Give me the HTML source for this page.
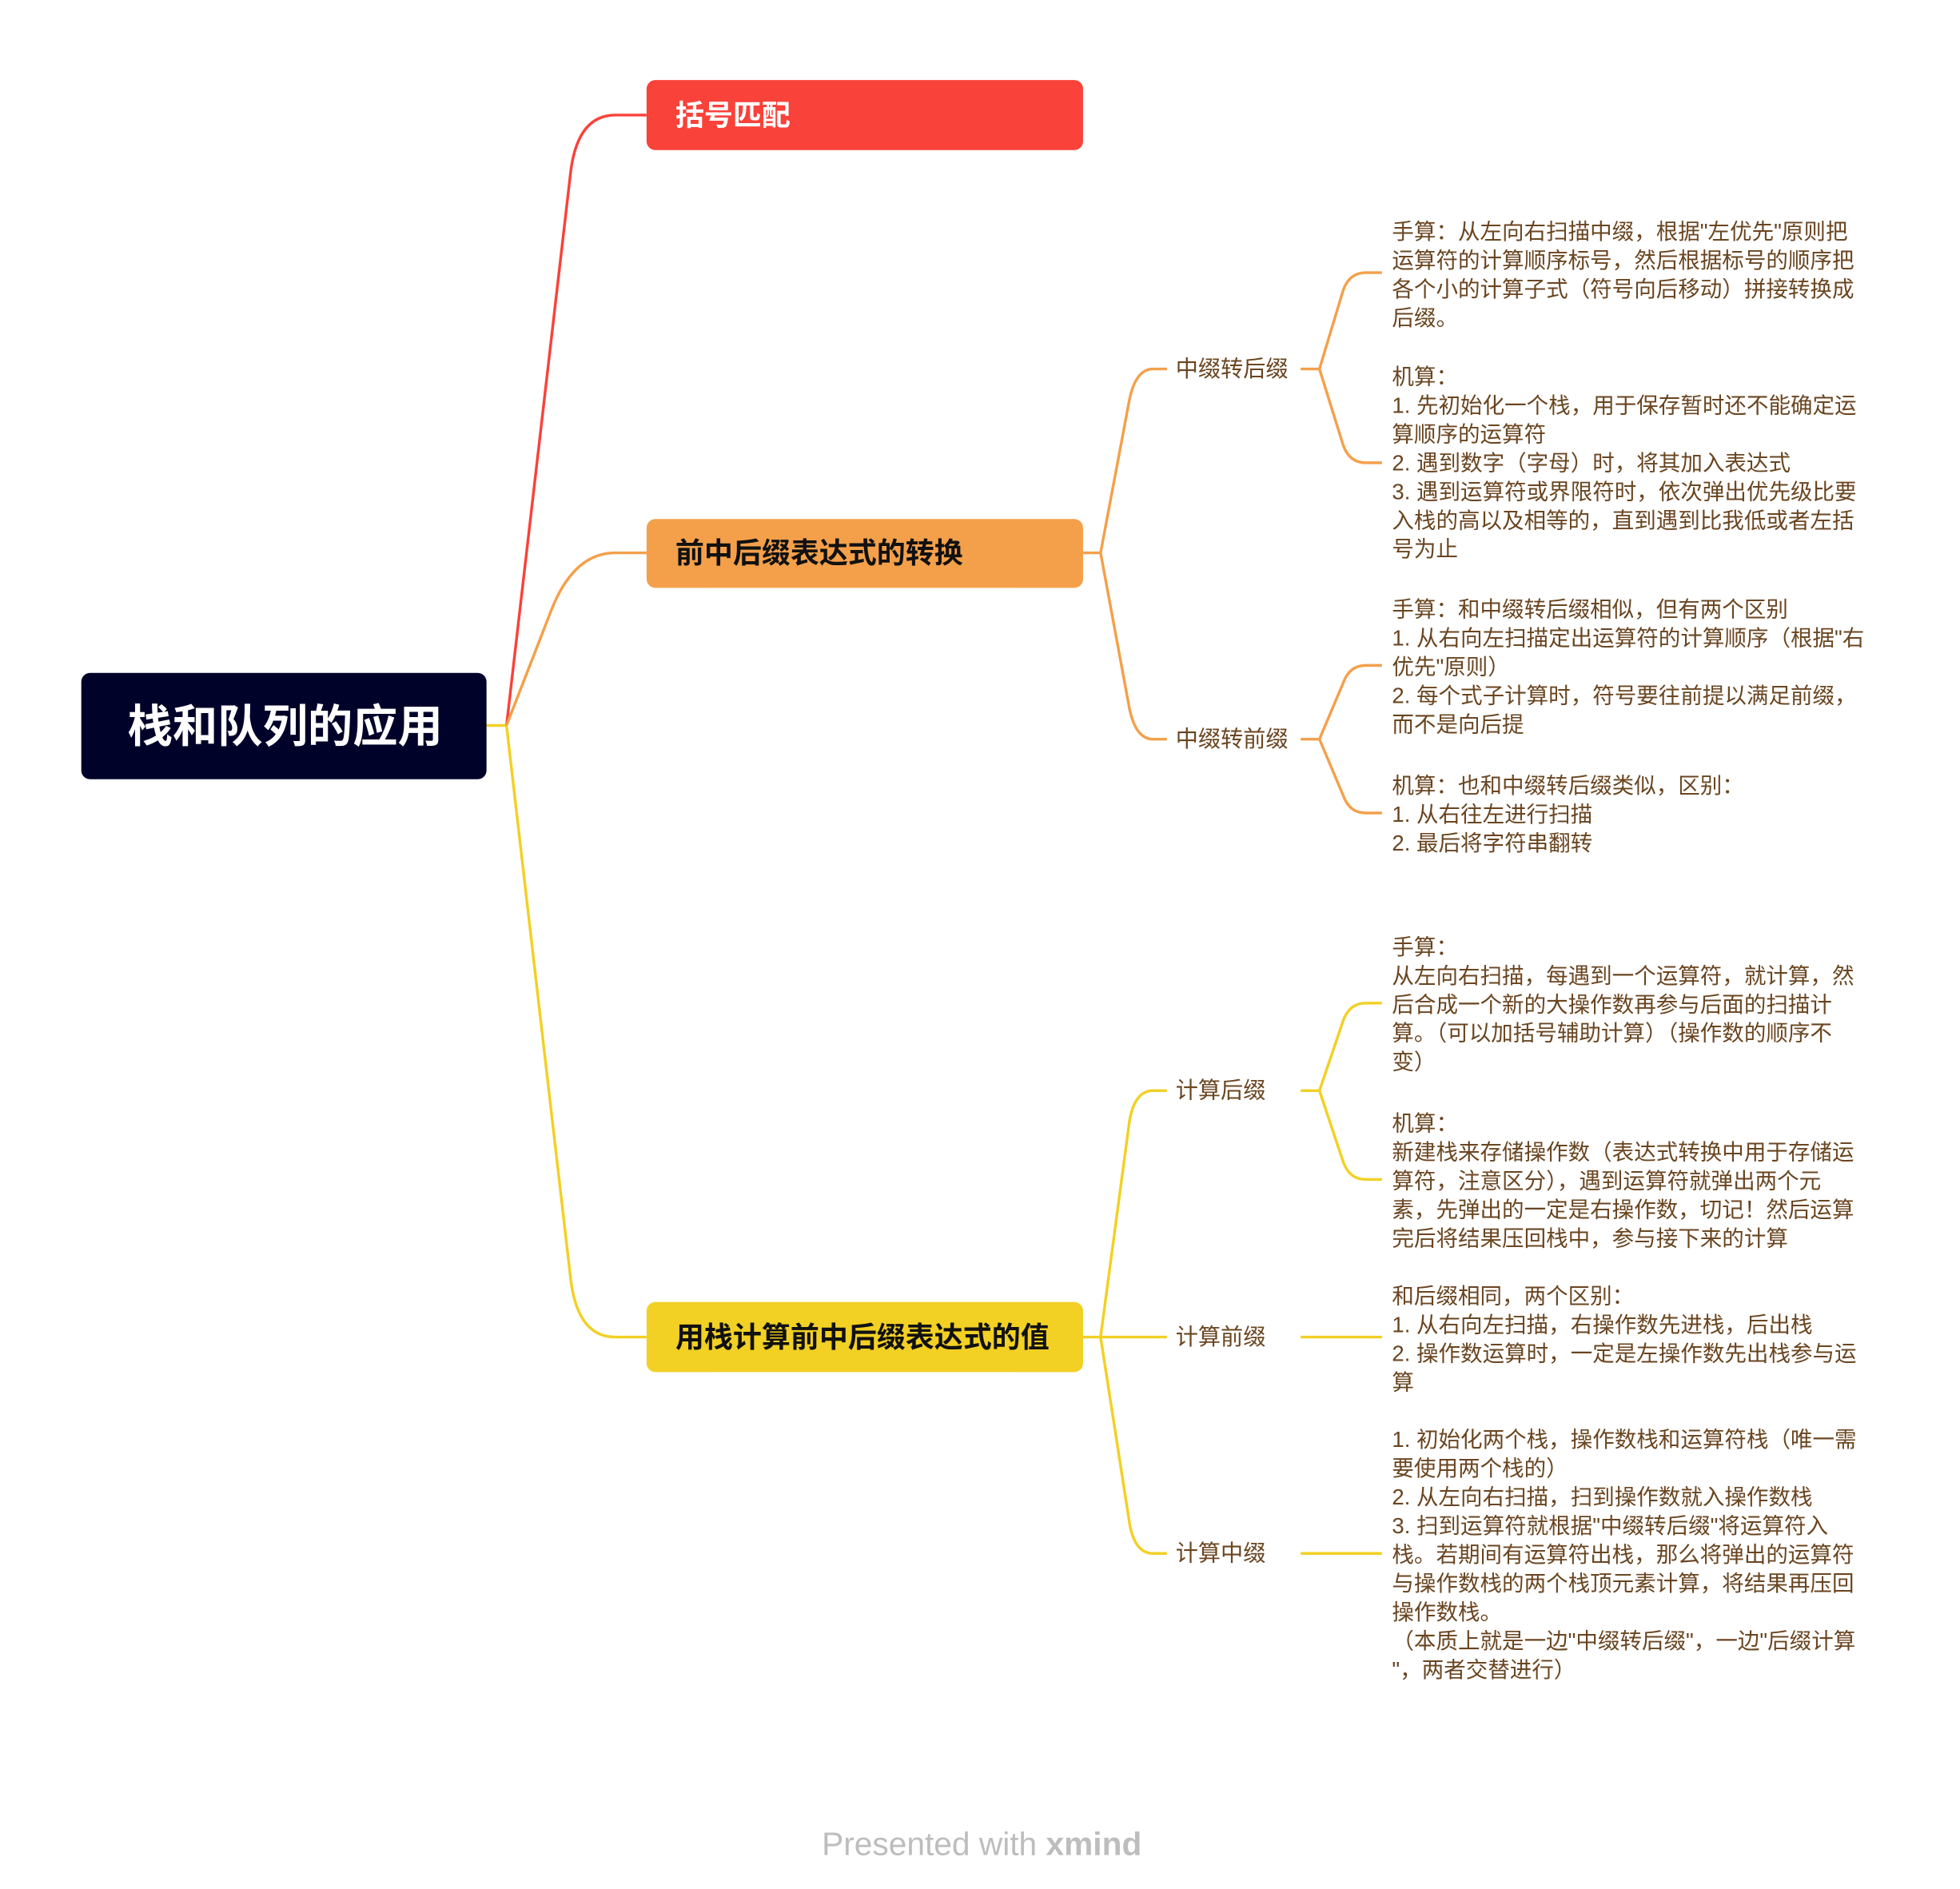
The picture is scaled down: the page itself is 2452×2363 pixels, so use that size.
<!DOCTYPE html>
<html><head><meta charset="utf-8"><style>
html,body{margin:0;padding:0;background:#fff;}
body{width:2452px;height:2356px;overflow:hidden;position:relative;}
#w{position:absolute;left:0;top:0;width:1570px;height:1510px;transform:scale(1.5646);transform-origin:0 0;font-family:"Liberation Sans","Noto Sans CJK SC",sans-serif;}
.box{position:absolute;border-radius:7px;box-sizing:border-box;font-weight:bold;white-space:nowrap;}
.sub{position:absolute;font-size:18px;color:#6a4520;line-height:22px;white-space:nowrap;}
.note{position:absolute;left:1113px;font-size:17.6px;color:#6a4520;line-height:23px;white-space:pre;margin-top:2px;}
svg{position:absolute;left:0;top:0;}
</style></head><body><div id="w">
<svg width="1560" height="1499" viewBox="0 0 1560 1499" fill="none" stroke-width="2.2">
<path d="M389,580 L405,580" stroke="#F2D024"/>
<path d="M405,580 L456,140 Q461,92 492,92 L517,92" stroke="#F9423A"/>
<path d="M405,580 L440,490 Q458,442 492,442 L517,442" stroke="#F4A04B"/>
<path d="M405,580 L456,1020 Q461,1069 492,1069 L517,1069" stroke="#F2D024"/>
<g stroke="#F4A04B">
<path d="M866,442 L880,442 L903,320 Q908,295 922,295 L933,295"/>
<path d="M880,442 L903,566 Q908,591 922,591 L933,591"/>
<path d="M1040,295 L1055,295 L1074,232 Q1079,218 1092,218 L1105,218"/>
<path d="M1055,295 L1074,356 Q1079,370 1092,370 L1105,370"/>
<path d="M1040,591 L1055,591 L1074,546 Q1079,532 1092,532 L1105,532"/>
<path d="M1055,591 L1074,636 Q1079,650 1092,650 L1105,650"/>
</g>
<g stroke="#F2D024">
<path d="M866,1069 L880,1069 L903,897 Q907,872 922,872 L933,872"/>
<path d="M880,1069 L933,1069"/>
<path d="M880,1069 L903,1217 Q907,1242 922,1242 L933,1242"/>
<path d="M1040,872 L1055,872 L1074,816 Q1079,802 1092,802 L1105,802"/>
<path d="M1055,872 L1074,929 Q1079,943 1092,943 L1105,943"/>
<path d="M1040,1069 L1105,1069"/>
<path d="M1040,1242 L1105,1242"/>
</g>
</svg>
<div class="box" style="left:65px;top:538px;width:324px;height:85px;background:#000229;color:#fff;font-size:36px;line-height:85px;padding-left:37px;">栈和队列的应用</div>
<div class="box" style="left:517px;top:64px;width:349px;height:56px;background:#F9423A;color:#fff;font-size:23px;line-height:56px;padding-left:23px;">括号匹配</div>
<div class="box" style="left:517px;top:415px;width:349px;height:55px;background:#F4A04B;color:#111;font-size:23px;line-height:55px;padding-left:23px;">前中后缀表达式的转换</div>
<div class="box" style="left:517px;top:1041px;width:349px;height:56px;background:#F2D024;color:#111;font-size:23px;line-height:56px;padding-left:23px;">用栈计算前中后缀表达式的值</div>
<div class="sub" style="left:940px;top:284px;">中缀转后缀</div>
<div class="sub" style="left:940px;top:580px;">中缀转前缀</div>
<div class="sub" style="left:940px;top:861px;">计算后缀</div>
<div class="sub" style="left:940px;top:1058px;">计算前缀</div>
<div class="sub" style="left:940px;top:1231px;">计算中缀</div>
<div class="note" style="top:172px;">手算：从左向右扫描中缀，根据"左优先"原则把
运算符的计算顺序标号，然后根据标号的顺序把
各个小的计算子式（符号向后移动）拼接转换成
后缀。</div>
<div class="note" style="top:288px;">机算：
1. 先初始化一个栈，用于保存暂时还不能确定运
算顺序的运算符
2. 遇到数字（字母）时，将其加入表达式
3. 遇到运算符或界限符时，依次弹出优先级比要
入栈的高以及相等的，直到遇到比我低或者左括
号为止</div>
<div class="note" style="top:474px;">手算：和中缀转后缀相似，但有两个区别
1. 从右向左扫描定出运算符的计算顺序（根据"右
优先"原则）
2. 每个式子计算时，符号要往前提以满足前缀，
而不是向后提</div>
<div class="note" style="top:615px;">机算：也和中缀转后缀类似，区别：
1. 从右往左进行扫描
2. 最后将字符串翻转</div>
<div class="note" style="top:744px;">手算：
从左向右扫描，每遇到一个运算符，就计算，然
后合成一个新的大操作数再参与后面的扫描计
算。（可以加括号辅助计算）（操作数的顺序不
变）</div>
<div class="note" style="top:885px;">机算：
新建栈来存储操作数（表达式转换中用于存储运
算符，注意区分），遇到运算符就弹出两个元
素，先弹出的一定是右操作数，切记！然后运算
完后将结果压回栈中，参与接下来的计算</div>
<div class="note" style="top:1023px;">和后缀相同，两个区别：
1. 从右向左扫描，右操作数先进栈，后出栈
2. 操作数运算时，一定是左操作数先出栈参与运
算</div>
<div class="note" style="top:1138px;">1. 初始化两个栈，操作数栈和运算符栈（唯一需
要使用两个栈的）
2. 从左向右扫描，扫到操作数就入操作数栈
3. 扫到运算符就根据"中缀转后缀"将运算符入
栈。若期间有运算符出栈，那么将弹出的运算符
与操作数栈的两个栈顶元素计算，将结果再压回
操作数栈。
（本质上就是一边"中缀转后缀"，一边"后缀计算
"，两者交替进行）</div>
<div style="position:absolute;left:0;width:1570px;top:1459px;text-align:center;font-size:26px;color:#bdbdbd;white-space:nowrap;">Presented with <b>xmind</b></div>
</div></body></html>
